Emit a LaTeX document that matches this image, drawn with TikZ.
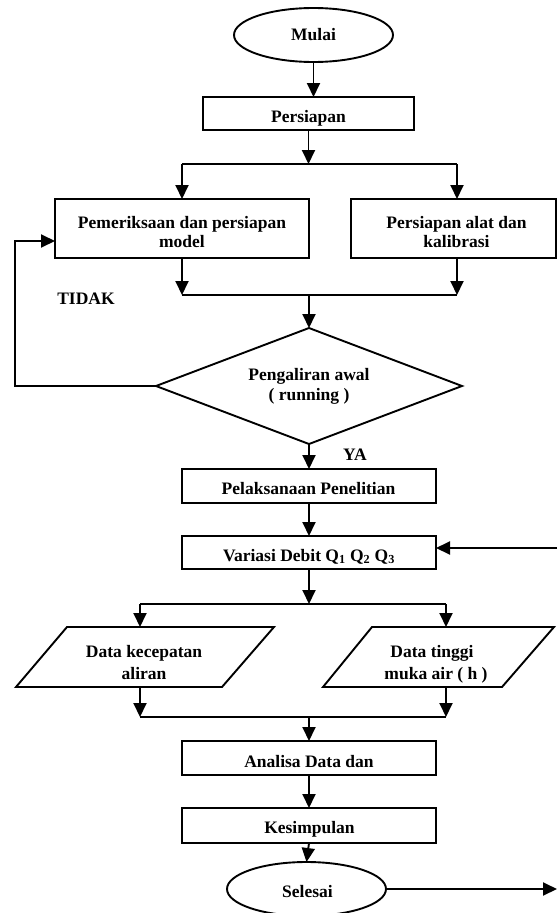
\documentclass[tikz,border=0pt]{standalone}
\usepackage{fontspec}
\setmainfont{Liberation Serif}
\usetikzlibrary{arrows.meta,shapes.geometric}
\begin{document}
\begin{tikzpicture}[x=1pt,y=-1pt,line width=1.9pt,
  box/.style={draw,rectangle,inner sep=0pt,outer sep=0pt},
  oval/.style={draw,ellipse,inner sep=0pt,outer sep=0pt},
  frame/.style={inner sep=0pt,outer sep=0pt},
  txt/.style={anchor=base,inner sep=0pt,outer sep=0pt,font=\fontsize{17.5}{19}\selectfont\bfseries},
  arr/.style={-{Triangle[length=14pt,width=13pt]}}]
\useasboundingbox (0,0) rectangle (557,913);
% shapes
\node[oval,minimum width=159pt,minimum height=54pt] (mulai) at (313.5,35) {};
\node[box,minimum width=211pt,minimum height=33pt] (prep) at (308.5,113.5) {};
\node[box,minimum width=254pt,minimum height=59pt] (pem) at (182,228.5) {};
\node[box,minimum width=205pt,minimum height=59pt] (alat) at (453.5,228.5) {};
\node[draw,diamond,inner sep=0pt,outer sep=0pt,minimum width=306pt,minimum height=116pt] (cek) at (309,386) {};
\node[box,minimum width=254pt,minimum height=34pt] (pel) at (309,486) {};
\node[box,minimum width=254pt,minimum height=33pt] (var) at (309,552.5) {};
\node[frame,minimum width=258pt,minimum height=60pt] (dk) at (145,657) {};
\draw (dk.south west) -- ([xshift=-52pt]dk.south east) -- (dk.north east) -- ([xshift=51pt]dk.north west) -- cycle;
\node[frame,minimum width=231pt,minimum height=60pt] (dt) at (438.5,657) {};
\draw (dt.south west) -- ([xshift=-52pt]dt.south east) -- (dt.north east) -- ([xshift=49pt]dt.north west) -- cycle;
\node[box,minimum width=254pt,minimum height=34pt] (ana) at (309,758) {};
\node[box,minimum width=254pt,minimum height=35pt] (kes) at (309,825.5) {};
\node[oval,minimum width=159pt,minimum height=54pt] (sel) at (306.5,889) {};
% texts
\node[txt] (tmulai) at (313.5,40.5) {Mulai};
\node[txt] (tprep) at (308.5,122) {Persiapan};
\node[txt] (tpem1) at (182,228) {Pemeriksaan dan persiapan};
\node[txt] (tpem2) at (182,247) {model};
\node[txt] (talat1) at (456.5,228) {Persiapan alat dan};
\node[txt] (talat2) at (456.5,247) {kalibrasi};
\node[txt] (ttidak) at (86,304) {TIDAK};
\node[txt] (tcek1) at (309,380) {Pengaliran awal};
\node[txt] (tcek2) at (309,400) {( running )};
\node[txt] (tya) at (355,460) {YA};
\node[txt] (tpel) at (308.5,494) {Pelaksanaan Penelitian};
\node[txt] (tvar) at (309,561) {Variasi Debit Q\textsubscript{1} Q\textsubscript{2} Q\textsubscript{3}};
\node[txt] (tdk1) at (144,657) {Data kecepatan};
\node[txt] (tdk2) at (144,679) {aliran};
\node[txt] (tdt1) at (432,657) {Data tinggi};
\node[txt] (tdt2) at (436,679) {muka air ( h )};
\node[txt] (tana) at (309,767) {Analisa Data dan};
\node[txt] (tkes) at (309.5,833) {Kesimpulan};
\node[txt] (tsel) at (307.5,897) {Selesai};
% junctions
\coordinate (j1) at (309,164); \coordinate (j1l) at (182,164); \coordinate (j1r) at (457,164);
\coordinate (j2) at (309,295); \coordinate (j2l) at (182,295); \coordinate (j2r) at (457,295);
\coordinate (fb1) at (15,386); \coordinate (fb2) at (15,241);
\coordinate (vin) at (557,548);
\coordinate (j3) at (309,604); \coordinate (j3l) at (140,604); \coordinate (j3r) at (446,604);
\coordinate (j4) at (309,717); \coordinate (j4l) at (140,717); \coordinate (j4r) at (446,717);
\coordinate (sout) at (557,889);
% connectors
\draw[arr] (mulai.south) -- (mulai.south |- prep.north);
\draw[arr] (prep.south) -- (prep.south |- j1);
\draw (j1l) -- (j1r);
\draw[arr] (j1l) -- (j1l |- pem.north);
\draw[arr] (j1r) -- (j1r |- alat.north);
\draw[arr] (j2l |- pem.south) -- (j2l);
\draw[arr] (j2r |- alat.south) -- (j2r);
\draw (j2l) -- (j2r);
\draw[arr] (j2) -- (cek.north);
\draw[arr] (cek.west) -- (fb1) -- (fb2) -- (fb2 -| pem.west);
\draw[arr] (cek.south) -- (pel.north);
\draw[arr] (pel.south) -- (var.north);
\draw[arr] (vin) -- (vin -| var.east);
\draw[arr] (var.south) -- (j3);
\draw (j3l) -- (j3r);
\draw[arr] (j3l) -- (j3l |- dk.north);
\draw[arr] (j3r) -- (j3r |- dt.north);
\draw[arr] (j4l |- dk.south) -- (j4l);
\draw[arr] (j4r |- dt.south) -- (j4r);
\draw (j4l) -- (j4r);
\draw[arr] (j4) -- (ana.north);
\draw[arr] (ana.south) -- (kes.north);
\draw[arr] (kes.south) -- (sel.north);
\draw[arr] (sel.east) -- (sout);
\end{tikzpicture}
\end{document}
